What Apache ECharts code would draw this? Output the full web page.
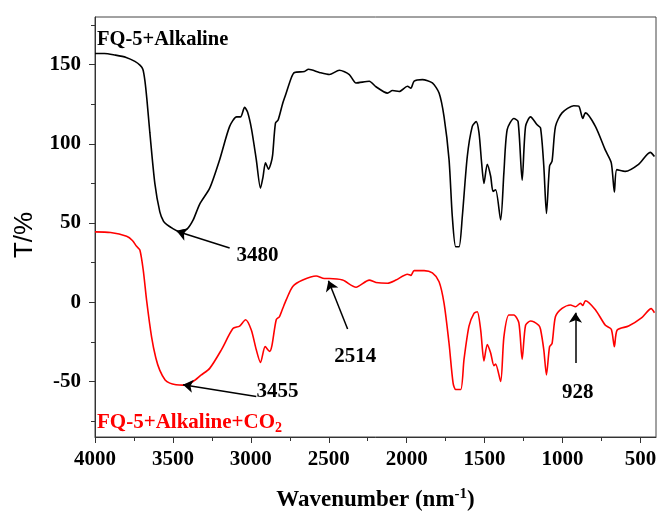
<!DOCTYPE html>
<html><head><meta charset="utf-8">
<script src="https://cdn.jsdelivr.net/npm/echarts@6/dist/echarts.min.js"></script>
<style>html,body{margin:0;padding:0;background:#fff}#c{width:659px;height:516px}</style>
</head><body><div id="c"></div>
<script>
// ---- data ----
const blackX = [4000,3940,3872,3800,3744,3710,3693,3680,3667,3648,3616,3584,3560,3539,3500,3469,3440,3411,3370,3328,3264,3200,3136,3091,3066,3040,3021,2995,2965,2938,2922,2906,2886,2870,2860,2842,2825,2797,2780,2739,2720,2656,2630,2560,2496,2432,2368,2325,2240,2197,2123,2091,2048,1995,1973,1952,1899,1835,1792,1760,1728,1707,1685,1664,1643,1611,1579,1554,1536,1519,1504,1483,1461,1446,1429,1397,1376,1355,1312,1285,1259,1237,1205,1163,1141,1120,1103,1083,1067,1045,1003,928,896,870,853,789,725,687,667,651,597,512,437,410];
const blackY = [157,157,156,154.5,152,149.5,147,140,128,107,75,57,51,49,46.5,45,45.5,46,52,62,72,90,111,117,117,123,120,109,90,72,79,88,84,88,93,113,115,125,130,142,145,145.6,147,145,143.7,146.4,143.7,138.4,139.5,136,132,133.6,133,136.3,135,139.5,140.5,138.4,132,117,90,54,35,35,54,92,111,114,107,88,75,87,79.5,70,71,52,82,109,116,114,77,111,117,112,110,86,56,86,89,111,119.5,124,123.7,116,119.5,111,96,88,69.5,83.7,82.6,87,94.6,92];
const redX = [4000,3900,3797,3760,3733,3712,3690,3669,3637,3610,3584,3550,3520,3480,3435,3371,3320,3264,3189,3115,3072,3034,2997,2965,2938,2908,2880,2865,2837,2816,2795,2773,2731,2667,2581,2528,2496,2411,2325,2240,2197,2123,2069,1995,1973,1952,1888,1835,1792,1760,1728,1702,1685,1653,1632,1600,1568,1547,1525,1504,1483,1461,1440,1429,1397,1376,1344,1312,1280,1259,1237,1205,1152,1141,1120,1103,1083,1067,1045,1003,949,917,885,870,853,789,725,687,667,649,576,491,431,410];
const redY = [44.4,44,41.6,39,35.3,33,20,1.4,-21.8,-35,-43,-49,-51,-52,-52.3,-50,-46,-41.7,-30,-16.6,-15,-11,-17.5,-30,-38,-28,-31,-27.5,-11,-9,-3.8,1.5,10,14,16.6,15,15,14,9.5,14,12.5,12,14,17.7,17,20,20,18.5,13,-0.7,-26,-51,-55,-55,-36,-15,-7,-6,-17.5,-37,-26.7,-32,-40,-39,-50,-21.8,-8,-8,-13,-36,-14.5,-11.8,-14.5,-17,-30,-45.8,-28,-26,-9,-3.8,-1.7,-2.8,-0.7,-2,1,-4.7,-14.5,-17,-28,-17.5,-15,-9.7,-4,-6.6];
const xMajorTicks = [4000,3500,3000,2500,2000,1500,1000,500];
const xMinorTicks = [3750,3250,2750,2250,1750,1250,750];
const yMajorTicks = [-50,0,50,100,150];
const yMinorTicks = [-75,-25,25,75,125,175];
// annotations: arrows [tailX, tailY, headX, headY], labels [text, x, y]
const arrows = [[3136,34.3,3475,44.8],[2965,-59.4,3435,-52],[2379,-16.9,2502,13.6],[917,-38.3,917,-6.6]];
const peakLabels = [['3480',2957,29.4],['3455',2829,-56.4],['2514',2330,-34.3],['928',902,-57]];
const seriesLabels = [['FQ-5+Alkaline',3987,165.8],['FQ-5+Alkaline+CO',3987,-76.2]];

const zip = (xs, ys) => xs.map((x, i) => [x, ys[i]]);
const serif = 'Liberation Serif';
const axisCol = '#333';
const plain = v => String(v);

const chart = echarts.init(document.getElementById('c'), null, {renderer: 'canvas'});
const baseX = {type:'value', min:400, max:4000, inverse:true, position:'bottom', splitLine:{show:false}};
const baseY = {type:'value', min:-85, max:180, position:'left', splitLine:{show:false}};
chart.setOption({
  animation: false,
  grid: {left:95, right:3, top:17, bottom:79, show:true, borderColor:'#444', borderWidth:1, containLabel:false, outerBoundsMode:'none'},
  xAxis: [
    Object.assign({}, baseX, {
      axisLine:{show:true, onZero:false, lineStyle:{color:axisCol, width:1}},
      axisTick:{show:true, inside:false, length:6, customValues:xMajorTicks, lineStyle:{color:axisCol}},
      axisLabel:{customValues:xMajorTicks, formatter:plain, margin:12, color:'#000', fontFamily:serif, fontWeight:'bold', fontSize:21},
      name:'Wavenumber (nm{sup|-1})', nameLocation:'middle', nameGap:50,
      nameTextStyle:{color:'#000', fontFamily:serif, fontWeight:'bold', fontSize:23,
        rich:{sup:{fontFamily:serif, fontWeight:'bold', fontSize:15, verticalAlign:'top', padding:[0,0,12,0], color:'#000'}}}
    }),
    Object.assign({}, baseX, {
      axisLine:{show:false, onZero:false},
      axisTick:{show:true, inside:false, length:4, customValues:xMinorTicks, lineStyle:{color:axisCol}},
      axisLabel:{show:false}
    })
  ],
  yAxis: [
    Object.assign({}, baseY, {
      axisLine:{show:true, onZero:false, lineStyle:{color:axisCol, width:1}},
      axisTick:{show:true, inside:false, length:6, customValues:yMajorTicks, lineStyle:{color:axisCol}},
      axisLabel:{customValues:yMajorTicks, formatter:plain, margin:14, color:'#000', fontFamily:serif, fontWeight:'bold', fontSize:21},
      name:'T/%', nameLocation:'middle', nameGap:57,
      nameTextStyle:{color:'#000', fontFamily:'Liberation Sans', fontSize:26, padding:[0,16,0,0]}
    }),
    Object.assign({}, baseY, {
      axisLine:{show:false, onZero:false},
      axisTick:{show:true, inside:false, length:4, customValues:yMinorTicks, lineStyle:{color:axisCol}},
      axisLabel:{show:false}
    })
  ],
  series: [
    {
      type:'line', name:'FQ-5+Alkaline', xAxisIndex:0, yAxisIndex:0,
      data: zip(blackX, blackY), showSymbol:false, smooth:0.25,
      lineStyle:{color:'#000', width:1.6}, itemStyle:{color:'#000'}, silent:true,
      markLine:{
        silent:true, symbol:['none','arrow'], symbolSize:10, animation:false,
        lineStyle:{color:'#000', width:1.5, type:'solid'}, label:{show:false},
        data: arrows.map(a => [{coord:[a[0],a[1]]},{coord:[a[2],a[3]]}])
      },
      markPoint:{
        silent:true, symbol:'circle', symbolSize:0, animation:false,
        data: peakLabels.map(p => ({coord:[p[1],p[2]], value:p[0],
          label:{show:true, position:'inside', formatter:p[0], color:'#000', fontFamily:serif, fontWeight:'bold', fontSize:21}}))
          .concat([{coord:[seriesLabels[0][1], seriesLabels[0][2]],
            label:{show:true, position:'right', distance:0, formatter:seriesLabels[0][0], color:'#000', fontFamily:serif, fontWeight:'bold', fontSize:20.5}}])
      }
    },
    {
      type:'line', name:'FQ-5+Alkaline+CO2', xAxisIndex:0, yAxisIndex:0,
      data: zip(redX, redY), showSymbol:false, smooth:0.25,
      lineStyle:{color:'#ff0000', width:1.6}, itemStyle:{color:'#ff0000'}, silent:true,
      markPoint:{
        silent:true, symbol:'circle', symbolSize:0, animation:false,
        data:[{coord:[seriesLabels[1][1], seriesLabels[1][2]],
          label:{show:true, position:'right', distance:0, formatter:'{a|' + seriesLabels[1][0] + '}{b|2}',
            rich:{a:{color:'#ff0000', fontFamily:serif, fontWeight:'bold', fontSize:21},
                  b:{color:'#ff0000', fontFamily:serif, fontWeight:'bold', fontSize:14, verticalAlign:'bottom', padding:[10,0,0,0]}}}}]
      }
    }
  ]
});
</script></body></html>
